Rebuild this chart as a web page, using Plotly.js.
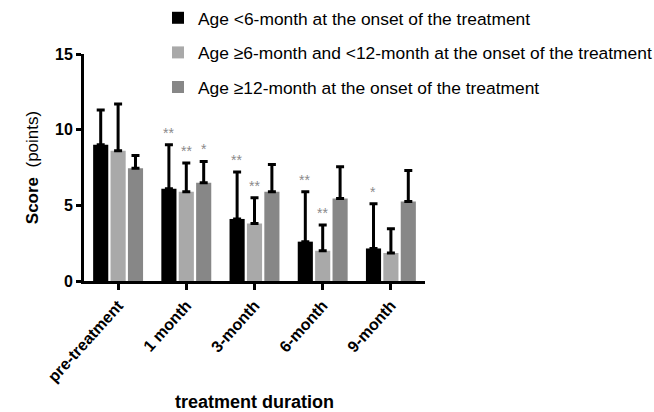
<!DOCTYPE html>
<html>
<head>
<meta charset="utf-8">
<script src="https://cdn.plot.ly/plotly-3.0.1.min.js"></script>
<style>html,body{margin:0;padding:0;background:#fff;}#chart{width:654px;height:412px;}</style>
</head>
<body>
<div id="chart"></div>
<script>
const categories = ['pre-treatment', '1 month', '3-month', '6-month', '9-month'];
const seriesNames = [
  'Age <6-month at the onset of the treatment',
  'Age ≥6-month and <12-month at the onset of the treatment',
  'Age ≥12-month at the onset of the treatment'
];
const under6Mean = [9.0, 6.1, 4.1, 2.6, 2.15];
const under6Sd   = [2.3, 2.9, 3.1, 3.3, 2.95];
const mid6to12Mean = [8.6, 5.9, 3.8, 2.0, 1.85];
const mid6to12Sd   = [3.1, 1.9, 1.7, 1.7, 1.6];
const over12Mean = [7.45, 6.5, 5.9, 5.45, 5.25];
const over12Sd   = [0.85, 1.4, 1.8, 2.1, 2.05];
const under6Sig = ['', '**', '**', '**', '*'];
const mid6to12Sig = ['', '**', '**', '**', ''];
const over12Sig = ['', '*', '', '', ''];
const yTicks = [0, 5, 10, 15];

const colors = ['#000000', '#a9a9a9', '#878787'];
const means = [under6Mean, mid6to12Mean, over12Mean];
const sds = [under6Sd, mid6to12Sd, over12Sd];
const sigs = [under6Sig, mid6to12Sig, over12Sig];

const traces = means.map((m, i) => ({
  type: 'bar',
  name: seriesNames[i],
  x: categories,
  y: m,
  legendgroup: 'g' + i,
  marker: {color: colors[i], line: {width: 0}},
  error_y: {type: 'data', symmetric: false, array: sds[i], arrayminus: m.map(() => 0),
            color: '#000', thickness: 3, width: 4},
  hoverinfo: 'skip'
}));

const offsets = [-18, 0, 18];
const annotations = [];
sigs.forEach((s, i) => {
  s.forEach((t, j) => {
    if (t) annotations.push({
      x: categories[j], y: means[i][j] + sds[i][j], xref: 'x', yref: 'y',
      xshift: offsets[i], yshift: 2, yanchor: 'bottom', showarrow: false,
      text: t, font: {family: 'Liberation Sans, Arial', size: 14, color: '#8a8a8a'}
    });
  });
});

const layout = {
  width: 654, height: 412,
  margin: {l: 84, r: 229, t: 54, b: 131, autoexpand: false},
  paper_bgcolor: '#fff', plot_bgcolor: '#fff',
  font: {family: 'Liberation Sans, Arial, sans-serif', color: '#000'},
  barmode: 'group', bargap: 0.235, bargroupgap: 0.13,
  showlegend: true,
  legend: {x: 0.217, xanchor: 'left', y: 1.238, yanchor: 'top',
           traceorder: 'grouped', tracegroupgap: 9, font: {size: 17.4, color: '#000'},
           bgcolor: 'rgba(0,0,0,0)'},
  xaxis: {
    range: [-0.5, 4.5], showline: true, linewidth: 3, linecolor: '#000',
    ticks: 'outside', ticklen: 6, tickwidth: 3, tickcolor: '#000', tickangle: -48,
    tickfont: {size: 16, family: 'Liberation Sans, Arial', weight: 'bold'},
    showgrid: false, zeroline: false, fixedrange: true,
    title: {text: '<b>treatment duration</b>', font: {size: 18}, standoff: 16}
  },
  yaxis: {
    range: [0, 15], tickvals: yTicks, ticktext: yTicks.map(String),
    showline: true, linewidth: 3, linecolor: '#000',
    ticks: 'outside', ticklen: 5, tickwidth: 3, tickcolor: '#000',
    tickfont: {size: 16, family: 'Liberation Sans, Arial', weight: 'bold'},
    showgrid: false, zeroline: false, fixedrange: true,
    title: {text: '<b>Score</b>  (points)', font: {size: 17}}
  },
  annotations: annotations
};

Plotly.newPlot('chart', traces, layout, {displayModeBar: false, staticPlot: true});
</script>
</body>
</html>
